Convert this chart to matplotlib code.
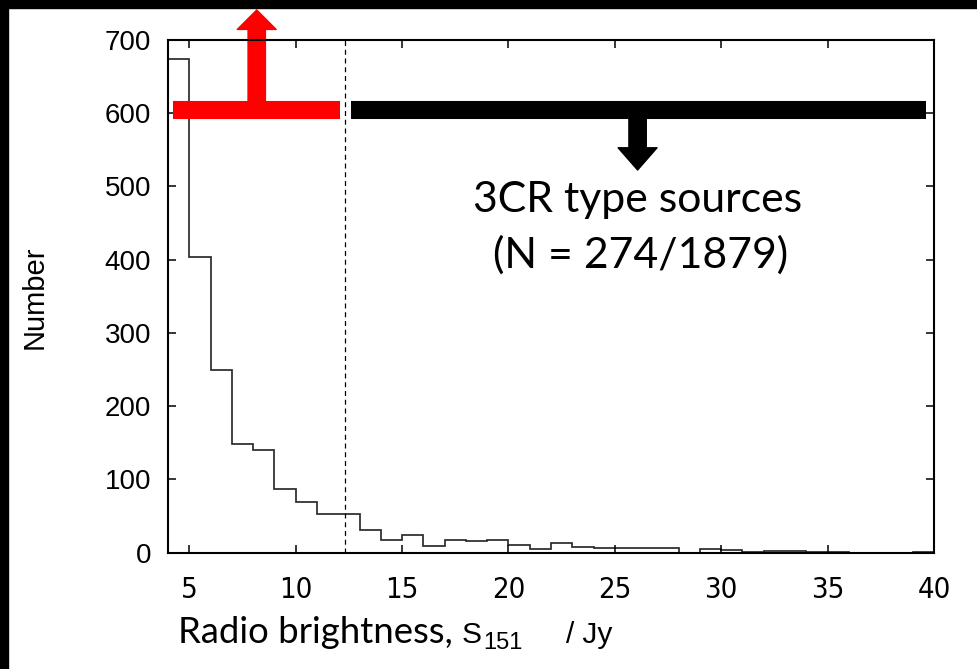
import numpy as np
import matplotlib
matplotlib.use("Agg")
import matplotlib.pyplot as plt
from matplotlib.patches import FancyArrowPatch, Rectangle
from matplotlib import font_manager
from matplotlib.font_manager import FontProperties

# histogram of radio brightness, 1 Jy bins from 4 to 40
bin_edges = np.arange(4, 41)
counts = [674, 404, 249, 149, 140, 87, 69, 53, 53, 31,
          17, 24, 9, 17, 16, 17, 10, 5, 13, 8,
          7, 6, 7, 7, 0, 5, 4, 1, 3, 2,
          1, 1, 0, 0, 0, 1]
cut = 12.3
xticks = [5, 10, 15, 20, 25, 30, 35, 40]
yticks = [0, 100, 200, 300, 400, 500, 600, 700]
note_lines = ["3CR type sources", "(N = 274/1879)"]

# look for a narrow sans face for the x tick labels
narrow_file = None
for f in font_manager.fontManager.ttflist:
    if "LiberationSansNarrow-Regular" in f.fname.replace(" ", ""):
        narrow_file = f.fname
        break
if narrow_file is None:
    for f in font_manager.fontManager.ttflist:
        if f.fname.endswith("DejaVuSansCondensed.ttf"):
            narrow_file = f.fname
            break
if narrow_file:
    xtick_font = FontProperties(fname=narrow_file, size=21)
else:
    xtick_font = FontProperties(family="Liberation Sans", size=20)

W, H = 977, 669
fig = plt.figure(figsize=(W / 100, H / 100), dpi=100)
ax = fig.add_axes([168 / W, 1 - 552.7 / H, (934 - 168) / W, (552.7 - 40) / H])

ax.stairs(counts, bin_edges, color="#2a2a2a", linewidth=1.25)
ax.axvline(cut, color="black", linestyle=(0, (4, 3)), linewidth=0.9)

ax.set_xlim(4, 40)
ax.set_ylim(0, 700)
ax.set_xticks(xticks)
ax.set_yticks(yticks)
ax.set_xticklabels([str(v) for v in xticks], fontproperties=xtick_font)
ax.set_yticklabels([str(v) for v in yticks], family="Liberation Sans", fontsize=20)
ax.tick_params(direction="in", length=6, width=1.1, top=True, right=True)
ax.tick_params(axis="x", pad=17)
ax.tick_params(axis="y", pad=12)
for s in ax.spines.values():
    s.set_linewidth(1.5)

fig.text(35 / W, 1 - 297 / H, "Number", family="Liberation Sans", fontsize=21,
         rotation=90, ha="center", va="center")

# red bar + up arrow (left of cut)
ax.plot([4.22, 12.1], [604.5, 604.5], color="red", linewidth=13, solid_capstyle="butt", clip_on=False)
red = FancyArrowPatch((8.17, 604.5), (8.17, 741), arrowstyle="simple,head_length=14,head_width=28,tail_width=12.5",
                      mutation_scale=1, color="red", shrinkA=0, shrinkB=0, clip_on=False)
ax.add_patch(red)

# black bar + down arrow (right of cut)
ax.plot([12.62, 39.64], [604.5, 604.5], color="black", linewidth=13, solid_capstyle="butt", clip_on=False)
blk = FancyArrowPatch((26.07, 604.5), (26.07, 522.5), arrowstyle="simple,head_length=16,head_width=28,tail_width=12.5",
                      mutation_scale=1, color="black", shrinkA=0, shrinkB=0, clip_on=False)
ax.add_patch(blk)

ax.text(26.07, 481, note_lines[0], family="Lato", fontsize=30.8, ha="center", va="center")
ax.text(26.2, 406, note_lines[1], family="Lato", fontsize=30.8, ha="center", va="center")

# x label: "Radio brightness," then S_151 / Jy in a different face
base = 1 - 643 / H
fig.text(178 / W, base, "Radio brightness,", family="Lato", fontsize=26.3, ha="left", va="baseline")
t_s = fig.text(462 / W, base, "S", family="Liberation Sans", fontsize=21.5, ha="left", va="baseline")
fig.canvas.draw()
r = fig.canvas.get_renderer()
s_right = t_s.get_window_extent(r).x1
fig.text((s_right + 1) / W, base - 6 / H, "151", family="Liberation Sans", fontsize=17, ha="left", va="baseline")
fig.text(612 / W, base, "/ Jy", family="Liberation Sans", fontsize=21.5, ha="right", va="baseline")

# black frame strips on top and left
fig.patches.append(Rectangle((0, 1 - 8 / H), 1, 8 / H, transform=fig.transFigure, color="black", zorder=10))
fig.patches.append(Rectangle((0, 0), 8 / W, 1, transform=fig.transFigure, color="black", zorder=10))

fig.savefig("out.png", dpi=100)
